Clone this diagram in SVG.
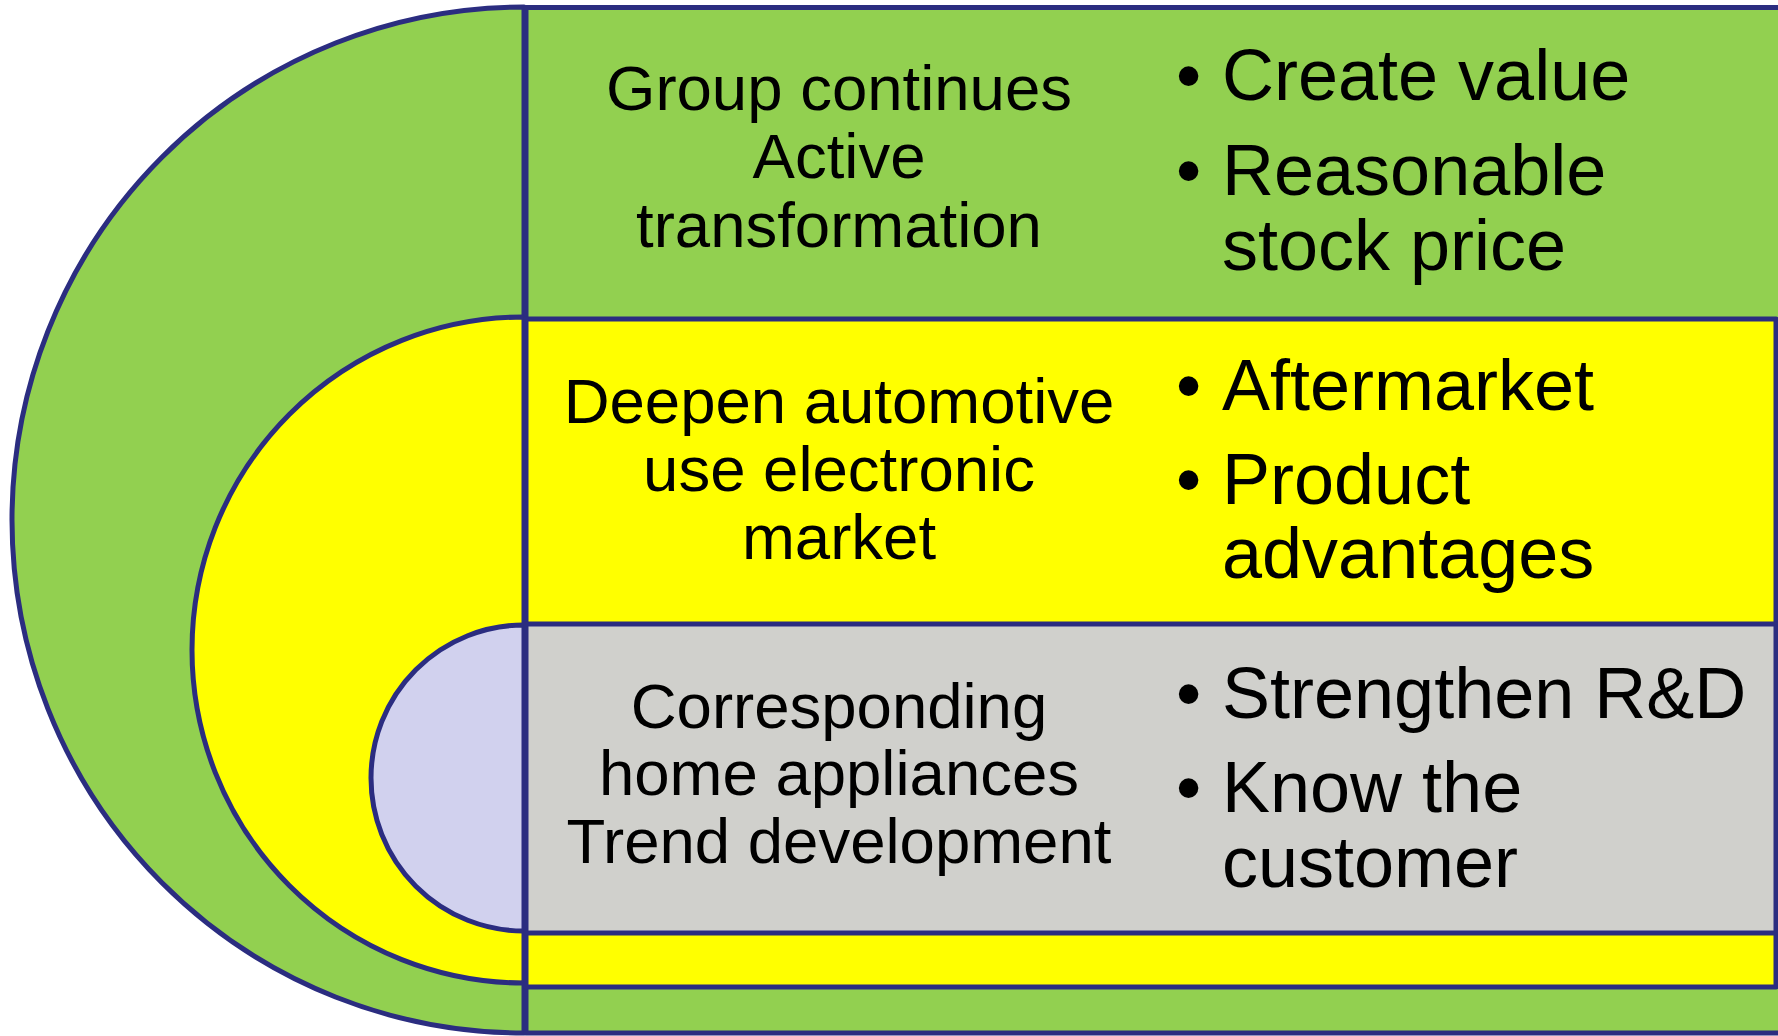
<svg xmlns="http://www.w3.org/2000/svg" width="1778" height="1036" viewBox="0 0 1778 1036">
<style>
.s{stroke:#2B2D80;stroke-width:5;stroke-linejoin:round}
.g{fill:#92D050}.y{fill:#FFFF00}.l{fill:#D1D1EE}.r{fill:#D0D0CC}
.c{font-family:"Liberation Sans",Arial,sans-serif;font-size:63.5px;fill:#000;text-anchor:middle}
.b{font-family:"Liberation Sans",Arial,sans-serif;font-size:72px;fill:#000}
</style>
<rect width="1778" height="1036" fill="#fff"/>
<g id="arcs">
<path id="arc-outer" class="s g" d="M524,7 A512,513 0 0 0 524,1033 Z"/>
<path id="arc-middle" class="s y" d="M524,317 A332,333 0 0 0 524,983 Z"/>
<path id="arc-inner" class="s l" d="M524,625 A153,153 0 0 0 524,931 Z"/>
</g>
<g id="panel-outer">
<rect class="s g" x="526" y="7.5" width="1266" height="1025.5"/>
<text class="c"><tspan x="839" y="110">Group continues</tspan><tspan x="839" y="178">Active</tspan><tspan x="839" y="247">transformation</tspan></text>
<text class="b"><tspan x="1176" y="100">•</tspan><tspan x="1222" y="100">Create value</tspan></text>
<text class="b"><tspan x="1176" y="195">•</tspan><tspan x="1222" y="195">Reasonable</tspan><tspan x="1222" y="270">stock price</tspan></text>
</g>
<g id="panel-middle">
<rect class="s y" x="526" y="319" width="1250" height="668"/>
<text class="c"><tspan x="839" y="423">Deepen automotive</tspan><tspan x="839" y="491">use electronic</tspan><tspan x="839" y="559">market</tspan></text>
<text class="b"><tspan x="1176" y="410">•</tspan><tspan x="1222" y="410">Aftermarket</tspan></text>
<text class="b"><tspan x="1176" y="504">•</tspan><tspan x="1222" y="504">Product</tspan><tspan x="1222" y="578">advantages</tspan></text>
</g>
<g id="panel-inner">
<rect class="s r" x="526" y="624" width="1250" height="309"/>
<text class="c"><tspan x="839" y="728">Corresponding</tspan><tspan x="839" y="795">home appliances</tspan><tspan x="839" y="863">Trend development</tspan></text>
<text class="b"><tspan x="1176" y="718">•</tspan><tspan x="1222" y="718">Strengthen R&amp;D</tspan></text>
<text class="b"><tspan x="1176" y="812">•</tspan><tspan x="1222" y="812">Know the</tspan><tspan x="1222" y="887">customer</tspan></text>
</g>
<g id="connectors"/>
</svg>
